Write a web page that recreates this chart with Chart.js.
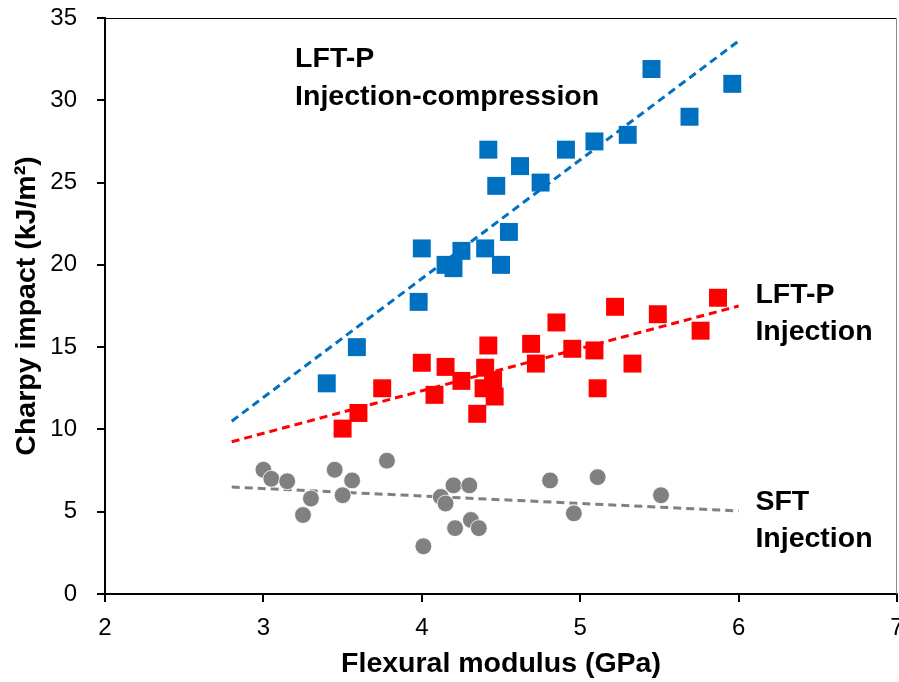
<!DOCTYPE html>
<html>
<head>
<meta charset="utf-8">
<script src="https://cdn.jsdelivr.net/npm/chart.js@4.4.1/dist/chart.umd.min.js"></script>
<style>
  html, body { margin: 0; padding: 0; background: #fff; overflow: hidden; }
  canvas { display: block; }
</style>
</head>
<body>
<canvas id="myChart" width="899" height="682"></canvas>
<script>
// tick labels
var xTicks = [2, 3, 4, 5, 6, 7];
var yTicks = [0, 5, 10, 15, 20, 25, 30, 35];

// LFT-P injection-compression
var icX = [3.40, 3.59, 3.98, 4.00, 4.15, 4.20, 4.25, 4.40, 4.42, 4.47, 4.50, 4.55, 4.62, 4.75, 4.91, 5.09, 5.30, 5.45, 5.69, 5.96];
var icY = [12.8, 15.0, 17.75, 21.0, 20.0, 19.8, 20.85, 21.0, 27.0, 24.8, 20.0, 22.0, 26.0, 25.0, 27.0, 27.5, 27.9, 31.9, 29.0, 31.0];

// LFT-P injection
var injX = [3.50, 3.60, 3.75, 4.00, 4.08, 4.15, 4.25, 4.35, 4.39, 4.40, 4.42, 4.45, 4.46, 4.69, 4.72, 4.85, 4.95, 5.09, 5.11, 5.22, 5.33, 5.49, 5.76, 5.87];
var injY = [10.05, 11.0, 12.5, 14.05, 12.1, 13.8, 12.95, 10.95, 12.5, 13.75, 15.1, 13.0, 12.0, 15.2, 14.0, 16.5, 14.9, 14.8, 12.5, 17.45, 14.0, 17.0, 16.0, 18.0];

// SFT injection
var sftX = [3.00, 3.05, 3.15, 3.25, 3.30, 3.45, 3.50, 3.56, 3.78, 4.01, 4.12, 4.15, 4.20, 4.21, 4.30, 4.31, 4.36, 4.81, 4.96, 5.11, 5.51];
var sftY = [7.55, 7.0, 6.85, 4.8, 5.8, 7.55, 6.0, 6.9, 8.1, 2.9, 5.9, 5.5, 6.6, 4.0, 6.6, 4.5, 4.0, 6.9, 4.9, 7.1, 6.0];

// trend lines (ends)
var trendX = [2.8, 6.0];
var icTrendY = [10.5, 33.6];
var injTrendY = [9.25, 17.5];
var sftTrendY = [6.5, 5.05];

var groupNames = [["LFT-P", "Injection-compression"], ["LFT-P", "Injection"], ["SFT", "Injection"]];

function pts(xs, ys) {
  return xs.map(function (v, i) { return {x: v, y: ys[i]}; });
}

var BLUE = "#0070C0", RED = "#FF0000", GREY = "#808080";

// where the group names sit (data units, left edge / first baseline)
var nameAnchors = [[3.2, 32.0], [6.106, 17.69], [6.106, 5.12]];

var frameAndNames = {
  id: "frameAndNames",
  afterDraw: function (chart) {
    var ctx = chart.ctx, a = chart.chartArea;
    var x = chart.scales.x, y = chart.scales.y;
    ctx.save();
    ctx.lineWidth = 1;
    ctx.strokeStyle = "#000";
    ctx.beginPath();
    ctx.moveTo(a.left, a.top + 0.5);
    ctx.lineTo(a.right, a.top + 0.5);
    ctx.stroke();
    ctx.strokeStyle = "#8c8c8c";
    ctx.beginPath();
    ctx.moveTo(a.right - 0.5, a.top);
    ctx.lineTo(a.right - 0.5, a.bottom);
    ctx.stroke();

    ctx.fillStyle = "#000";
    ctx.font = 'bold 28.5px "Liberation Sans", Arial, sans-serif';
    ctx.textBaseline = "alphabetic";
    ctx.textAlign = "left";
    groupNames.forEach(function (lines, i) {
      var px = x.getPixelForValue(nameAnchors[i][0]);
      var py = y.getPixelForValue(nameAnchors[i][1]);
      lines.forEach(function (t, j) {
        ctx.fillText(t, px, py + j * 37.5);
      });
    });
    ctx.restore();
  }
};

Chart.defaults.font.family = '"Liberation Sans", Arial, sans-serif';
Chart.defaults.color = "#000";

new Chart("myChart", {
  type: "scatter",
  data: {
    datasets: [
      { data: pts(icX, icY), pointStyle: "rect", pointRadius: 12.7, pointHoverRadius: 12.7,
        backgroundColor: BLUE, borderWidth: 0, order: 1 },
      { data: pts(injX, injY), pointStyle: "rect", pointRadius: 12.7, pointHoverRadius: 12.7,
        backgroundColor: RED, borderWidth: 0, order: 1 },
      { data: pts(sftX, sftY), pointStyle: "circle", pointRadius: 8.4, pointHoverRadius: 8.4,
        backgroundColor: GREY, borderColor: "#fff", borderWidth: 0.8, order: 1 },
      { data: pts(trendX, icTrendY), showLine: true, pointRadius: 0, borderColor: BLUE,
        borderWidth: 3, borderDash: [8, 5], order: 2 },
      { data: pts(trendX, injTrendY), showLine: true, pointRadius: 0, borderColor: RED,
        borderWidth: 3, borderDash: [8, 5], order: 2 },
      { data: pts(trendX, sftTrendY), showLine: true, pointRadius: 0, borderColor: GREY,
        borderWidth: 3, borderDash: [8, 5], order: 2 }
    ]
  },
  options: {
    responsive: false,
    animation: false,
    events: [],
    layout: { autoPadding: false, padding: { left: 0, right: 2, top: 18, bottom: 0 } },
    plugins: { legend: { display: false }, tooltip: { enabled: false } },
    scales: {
      x: {
        type: "linear",
        min: 2, max: 7,
        afterBuildTicks: function (s) { s.ticks = xTicks.map(function (v) { return {value: v}; }); },
        afterFit: function (s) { s.height = 88; s.paddingLeft = 0; s.paddingRight = 0; },
        ticks: { font: { size: 24 }, padding: 12, color: "#000" },
        grid: { drawOnChartArea: false, tickLength: 8, lineWidth: 2, color: "#000" },
        border: { display: true, width: 2, color: "#000" },
        title: { display: true, text: "Flexural modulus (GPa)", font: { size: 28.5, weight: "bold" },
                 padding: { top: 0, bottom: 1 } }
      },
      y: {
        type: "linear",
        min: 0, max: 35,
        afterBuildTicks: function (s) { s.ticks = yTicks.map(function (v) { return {value: v}; }); },
        afterFit: function (s) { s.width = 105; s.paddingTop = 0; s.paddingBottom = 0; },
        ticks: { font: { size: 24 }, padding: 20, color: "#000" },
        grid: { drawOnChartArea: false, tickLength: 8, lineWidth: 2, color: "#000" },
        border: { display: true, width: 2, color: "#000" },
        title: { display: true, text: "Charpy impact (kJ/m²)", font: { size: 28.5, weight: "bold" },
                 padding: { top: 10, bottom: 0 } }
      }
    }
  },
  plugins: [frameAndNames]
});
</script>
</body>
</html>
